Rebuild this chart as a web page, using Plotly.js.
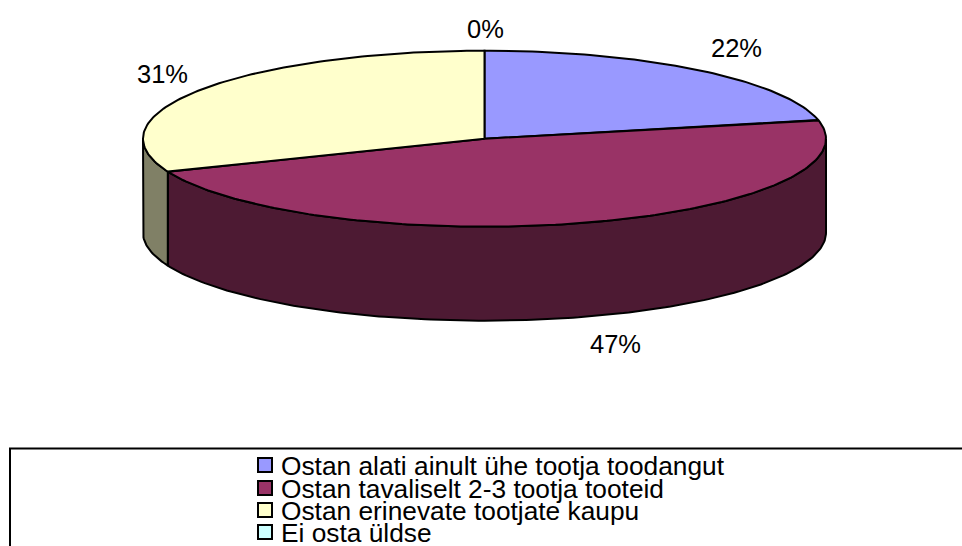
<!DOCTYPE html>
<html><head><meta charset="utf-8">
<script src="https://cdn.plot.ly/plotly-3.0.1.min.js"></script>
<style>html,body{margin:0;padding:0;background:#fff}#c{width:962px;height:546px}</style>
</head><body><div id="c"></div>
<script>
var categories = ["Ostan alati ainult ühe tootja toodangut","Ostan tavaliselt 2-3 tootja tooteid","Ostan erinevate tootjate kaupu","Ei osta üldse"];
var values = [21.6, 47.3, 31.1, 0];
var topColors = ["#9999FF","#993366","#FFFFCC","#CCFFFF"];
var sideColors = ["#4D4D80","#4D1A33","#808066","#668080"];
var labelX = [736, 615, 162, 485];
var labelY = [48, 344, 74, 29];

var cx = 484.5, cy = 138.7, rx = 341.5, ry = 88, depth = 94;
var total = values.reduce(function(a,b){return a+b;},0);
function px(d){return cx + rx*Math.sin(d*Math.PI/180);}
function py(d,z){return cy - ry*Math.cos(d*Math.PI/180) + (z||0);}
function arc(a,b){var s=[a];for(var d=Math.ceil(a);d<b;d+=1){if(d>a)s.push(d);}s.push(b);return s;}
var lineStyle = {color:"#000",width:2,shape:"linear"};
var traces = [], cum = 0, walls = [], tops = [];
values.forEach(function(v,i){
  var a = cum/total*360, b = (cum+v)/total*360; cum += v;
  var wa = Math.max(a,90), wb = Math.min(b,270);
  if (wb > wa) {
    var s = arc(wa,wb), xs = s.map(function(d){return px(d);}), ys = s.map(function(d){return py(d,0);});
    var r = s.slice().reverse();
    xs = xs.concat(r.map(function(d){return px(d);}));
    ys = ys.concat(r.map(function(d){return py(d,depth);}));
    xs.push(xs[0]); ys.push(ys[0]);
    walls.push({type:"scatter",mode:"lines",x:xs,y:ys,fill:"toself",fillcolor:sideColors[i],line:lineStyle,hoverinfo:"skip",showlegend:false});
  }
  if (v > 0) {
    var t = arc(a,b);
    var tx = [cx].concat(t.map(function(d){return px(d);}),[cx]);
    var ty = [cy].concat(t.map(function(d){return py(d,0);}),[cy]);
    tops.push({type:"scatter",mode:"lines",x:tx,y:ty,fill:"toself",fillcolor:topColors[i],line:lineStyle,name:categories[i],hoverinfo:"name",showlegend:false});
  }
});
traces = walls.concat(tops);

var family = "Liberation Sans, Arial, sans-serif";
var labelFont = {family:family,size:25.5,color:"#000"};
var legendFont = {family:family,size:26.3,color:"#000"};
var annotations = values.map(function(v,i){
  return {x:labelX[i],y:labelY[i],xref:"x",yref:"y",text:Math.round(v)+"%",showarrow:false,xanchor:"center",yanchor:"middle",font:labelFont};
});
var legendRows = [465, 488, 510, 532];
var legendTextY = [466, 488.5, 511, 533];
traces.push({type:"scatter",mode:"markers",x:categories.map(function(){return 265;}),y:legendRows,
  marker:{symbol:"square",size:14,color:topColors,line:{color:"#000",width:2}},hoverinfo:"skip",showlegend:false,cliponaxis:false});
categories.forEach(function(c,i){
  annotations.push({x:279.5,y:legendTextY[i],xref:"x",yref:"y",text:c,showarrow:false,xanchor:"left",yanchor:"middle",font:legendFont,borderpad:0});
});

Plotly.newPlot("c",traces,{
  width:962,height:546,margin:{l:0,r:0,t:0,b:0},
  paper_bgcolor:"#fff",plot_bgcolor:"#fff",showlegend:false,
  xaxis:{range:[0,962],visible:false,fixedrange:true},
  yaxis:{range:[546,0],visible:false,fixedrange:true},
  shapes:[{type:"rect",xref:"x",yref:"y",x0:10,x1:1000,y0:448.5,y1:600,line:{color:"#000",width:2},layer:"below"}],
  annotations:annotations
},{displayModeBar:false,staticPlot:true});
</script></body></html>
